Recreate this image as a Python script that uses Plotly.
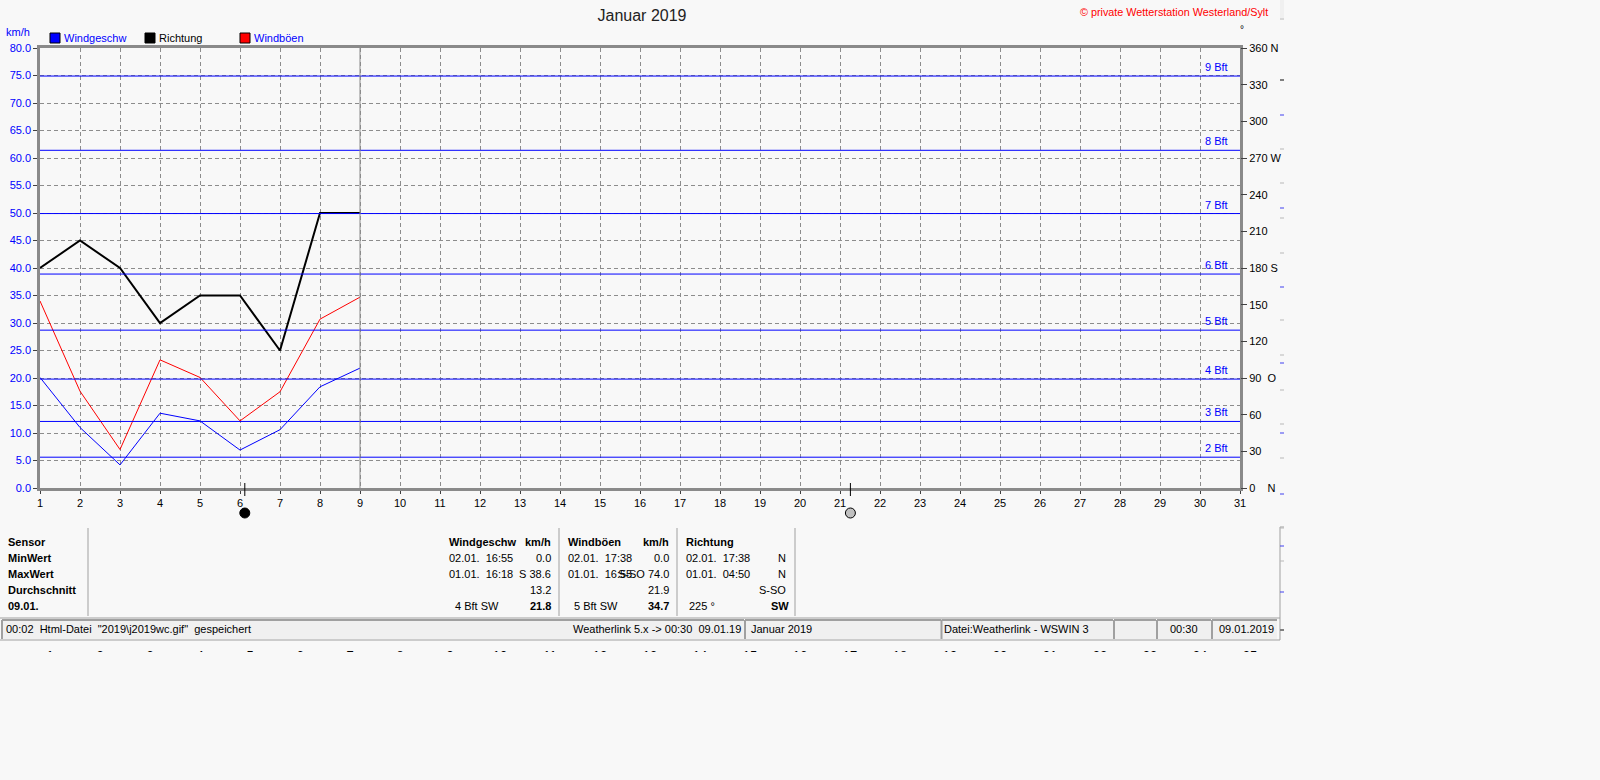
import plotly.graph_objects as go

# --- data ---
days = [1, 2, 3, 4, 5, 6, 7, 8, 9]
wind_speed = [20.1, 11.0, 4.2, 13.6, 12.2, 6.9, 10.6, 18.4, 21.8]
wind_gusts = [34.0, 17.6, 7.0, 23.3, 20.1, 12.2, 17.5, 30.7, 34.7]
direction_deg = [180, 202.5, 180, 135, 157.5, 157.5, 112.5, 225, 225]

month_days = list(range(1, 32))
speed_ticks = [i * 5 for i in range(17)]
dir_ticks = [0, 30, 60, 90, 120, 150, 180, 210, 240, 270, 300, 330, 360]
dir_labels = ["0\u00a0\u00a0\u00a0\u00a0N", "30", "60", "90\u00a0\u00a0O", "120", "150", "180 S",
              "210", "240", "270 W", "300", "330", "360 N"]

bft_names = ["2 Bft", "3 Bft", "4 Bft", "5 Bft", "6 Bft", "7 Bft", "8 Bft", "9 Bft"]
bft_kmh = [5.6, 12.1, 19.8, 28.7, 38.9, 49.9, 61.4, 74.9]

new_moon_day = 6.12
full_moon_day = 21.26

# tick row of the next chart, only its top edge is visible
next_chart_days = list(range(1, 26))

W, H = 1600, 780
BG = "#F8F8F8"
FRAME = "#8A8A8A"
GRID = "#8C8C8C"
PANEL = "#F0F0F0"
FONT = "Liberation Sans"


def px(x):
    return x / W


def py(y):
    return 1 - y / H


def label(fig, x, y, text, color="black", bold=False, anchor="left", size=11):
    if bold:
        text = "<b>" + text + "</b>"
    fig.add_annotation(xref="paper", yref="paper", x=px(x), y=py(y), text=text, showarrow=False,
                       xanchor=anchor, yanchor="middle", borderpad=0,
                       font=dict(family=FONT, size=size, color=color))


def rect(fig, x0, y0, x1, y1, fill, line=None, layer="below"):
    fig.add_shape(type="rect", xref="paper", yref="paper", x0=px(x0), x1=px(x1), y0=py(y0), y1=py(y1),
                  fillcolor=fill, line=dict(color=line, width=1) if line else dict(width=0), layer=layer)


def seg(fig, x0, y0, x1, y1, color="#A0A0A0", width=1):
    fig.add_shape(type="line", xref="paper", yref="paper", x0=px(x0), x1=px(x1), y0=py(y0), y1=py(y1),
                  line=dict(color=color, width=width), layer="below")


def status_panel(fig, x0, x1):
    rect(fig, x0, 620, x1, 639, PANEL)
    seg(fig, x0, 620, x1, 620, width=2)
    seg(fig, x0, 620, x0, 639, width=2)


fig = go.Figure()

fig.add_trace(go.Scatter(x=days, y=direction_deg, yaxis="y2", mode="lines", name="Richtung",
                         line=dict(color="black", width=2)))
fig.add_trace(go.Scatter(x=days, y=wind_gusts, mode="lines", name="Windböen",
                         line=dict(color="#FF0000", width=1)))
fig.add_trace(go.Scatter(x=days, y=wind_speed, mode="lines", name="Windgeschw",
                         line=dict(color="#0000FF", width=1)))
# invisible trace so that the third axis gets drawn
fig.add_trace(go.Scatter(x=next_chart_days, y=[0] * len(next_chart_days), xaxis="x2", yaxis="y3",
                         mode="lines", line=dict(width=0), hoverinfo="skip"))

fig.update_layout(
    width=W, height=H,
    margin=dict(l=0, r=0, t=0, b=0),
    paper_bgcolor=BG, plot_bgcolor=BG,
    showlegend=False,
    font=dict(family=FONT, size=11, color="black"),
    title=dict(text="Januar 2019", x=px(642), y=py(15), xanchor="center", yanchor="middle",
               automargin=False, font=dict(family=FONT, size=16, color="#222222")),
    xaxis=dict(domain=[px(40), px(1240)], range=[1, 31], tickvals=month_days, automargin=False,
               showgrid=True, gridcolor=GRID, griddash="4px,3px", gridwidth=1,
               showline=True, linecolor=FRAME, linewidth=2.5, mirror=True, zeroline=False,
               ticks="outside", ticklen=3, tickcolor="#404040",
               tickfont=dict(family=FONT, size=11, color="black")),
    yaxis=dict(domain=[py(488), py(48)], range=[0, 80], tickvals=speed_ticks, tickformat=".1f", automargin=False,
               showgrid=True, gridcolor=GRID, griddash="4px,3px", gridwidth=1,
               showline=True, linecolor=FRAME, linewidth=2.5, mirror=True, zeroline=False,
               ticks="outside", ticklen=4, tickcolor="#404040",
               tickfont=dict(family=FONT, size=11, color="#0000FF")),
    yaxis2=dict(overlaying="y", side="right", range=[0, 360], tickvals=dir_ticks, ticktext=dir_labels,
                automargin=False, showgrid=False, zeroline=False, ticks="outside", ticklen=6, tickcolor="#404040",
                tickfont=dict(family=FONT, size=11, color="black")),
    xaxis2=dict(domain=[px(50), px(1250)], range=[1, 25], tickvals=next_chart_days, automargin=False,
                anchor="free", position=py(646), side="bottom",
                showgrid=False, zeroline=False, showline=False, ticks="",
                tickfont=dict(family=FONT, size=13, color="black")),
    yaxis3=dict(domain=[0, 0.01], visible=False, anchor="x2", automargin=False),
)

# Beaufort lines with their labels
for name, kmh in zip(bft_names, bft_kmh):
    fig.add_shape(type="line", xref="paper", x0=px(40), x1=px(1240), yref="y", y0=kmh, y1=kmh,
                  line=dict(color="#0000FF", width=1))
    fig.add_annotation(x=30, y=kmh, xref="x", yref="y", text=name, showarrow=False, xanchor="left",
                       yanchor="middle", xshift=3, yshift=9, font=dict(family=FONT, size=11, color="#0000FF"))

# today marker
fig.add_shape(type="line", xref="x", x0=days[-1], x1=days[-1], yref="y", y0=0, y1=80,
              line=dict(color=FRAME, width=1))

# moon phases
for day, fill in [(new_moon_day, "black"), (full_moon_day, "#C0C0C0")]:
    fig.add_shape(type="line", xref="x", x0=day, x1=day, yref="paper", y0=py(483), y1=py(496),
                  line=dict(color="black", width=1))
    fig.add_shape(type="circle", xref="x", xsizemode="pixel", xanchor=day, x0=-5, x1=5,
                  yref="paper", ysizemode="pixel", yanchor=py(513), y0=-5, y1=5,
                  fillcolor=fill, line=dict(color="black", width=1))

# legend row and header
label(fig, 5, 32, "km/h", color="#0000FF")
for x0, color, text, text_color in [(50, "#0000FF", "Windgeschw", "#0000FF"),
                                    (145, "black", "Richtung", "black"),
                                    (240, "#FF0000", "Windböen", "#0000FF")]:
    rect(fig, x0, 33, x0 + 10, 43, color, line="black")
    label(fig, x0 + 13, 38, text, color=text_color)
label(fig, 1269, 12, "© private Wetterstation Westerland/Sylt", color="#FF0000", anchor="right", size=10.8)
label(fig, 1242, 30, "°", anchor="center", size=10)

# statistics table
for i, text in enumerate(["Sensor", "MinWert", "MaxWert", "Durchschnitt", "09.01."]):
    label(fig, 7, 542 + i * 16, text, bold=True)
for x in [88, 559, 677, 795]:
    seg(fig, x, 528, x, 616)

label(fig, 448, 542, "Windgeschw", bold=True)
label(fig, 552, 542, "km/h", bold=True, anchor="right")
label(fig, 448, 558, "02.01.\u00a0\u00a016:55")
label(fig, 552, 558, "0.0", anchor="right")
label(fig, 448, 574, "01.01.\u00a0\u00a016:18")
label(fig, 552, 574, "S 38.6", anchor="right")
label(fig, 552, 590, "13.2", anchor="right")
label(fig, 454, 606, "4 Bft SW")
label(fig, 552, 606, "21.8", bold=True, anchor="right")

label(fig, 567, 542, "Windböen", bold=True)
label(fig, 670, 542, "km/h", bold=True, anchor="right")
label(fig, 567, 558, "02.01.\u00a0\u00a017:38")
label(fig, 670, 558, "0.0", anchor="right")
label(fig, 567, 574, "01.01.\u00a0\u00a016:55")
label(fig, 670, 574, "S-SO 74.0", anchor="right")
label(fig, 670, 590, "21.9", anchor="right")
label(fig, 573, 606, "5 Bft SW")
label(fig, 670, 606, "34.7", bold=True, anchor="right")

label(fig, 685, 542, "Richtung", bold=True)
label(fig, 685, 558, "02.01.\u00a0\u00a017:38")
label(fig, 787, 558, "N", anchor="right")
label(fig, 685, 574, "01.01.\u00a0\u00a004:50")
label(fig, 787, 574, "N", anchor="right")
label(fig, 787, 590, "S-SO", anchor="right")
label(fig, 688, 606, "225 °")
label(fig, 790, 606, "SW", bold=True, anchor="right")

# status bar
seg(fig, 0, 618, 1280, 618)
seg(fig, 0, 640, 1280, 640)
seg(fig, 1280, 527, 1280, 640)
seg(fig, 1280, 527, 1284, 527)
for x0, x1 in [(2, 744), (745, 941), (941.5, 1113), (1114, 1156), (1157, 1211), (1212, 1277)]:
    status_panel(fig, x0, x1)
label(fig, 5, 629, "00:02\u00a0\u00a0Html-Datei\u00a0\u00a0\"2019\\j2019wc.gif\"\u00a0\u00a0gespeichert")
label(fig, 742, 629, "Weatherlink 5.x -> 00:30\u00a0\u00a009.01.19", anchor="right")
label(fig, 750, 629, "Januar 2019")
label(fig, 943, 629, "Datei:Weatherlink - WSWIN 3")
label(fig, 1184, 629, "00:30", anchor="center")
label(fig, 1218, 629, "09.01.2019")

# leftovers at the right edge of the screenshot
rect(fig, 1280, 0, 1284, 18, PANEL)
for y in [19, 149, 183, 218, 253, 320, 355, 390, 424, 458, 528, 561]:
    seg(fig, 1280, y, 1284, y, color="#B8B8B8")
for y in [80, 630]:
    seg(fig, 1280, y, 1284, y, color="#808080", width=2)
for y in [115, 208, 287, 363, 433, 494, 546, 592]:
    seg(fig, 1280, y, 1284, y, color="#4040F0")

# hides all but the top of the next chart's tick labels
rect(fig, 0, 652, 1600, 780, BG, layer="above")

fig.write_html("out.html", config={"displayModeBar": False}, post_script=(
    "document.body.style.margin='0';document.body.style.overflow='hidden';"
    "document.body.style.background='" + BG + "';"))
